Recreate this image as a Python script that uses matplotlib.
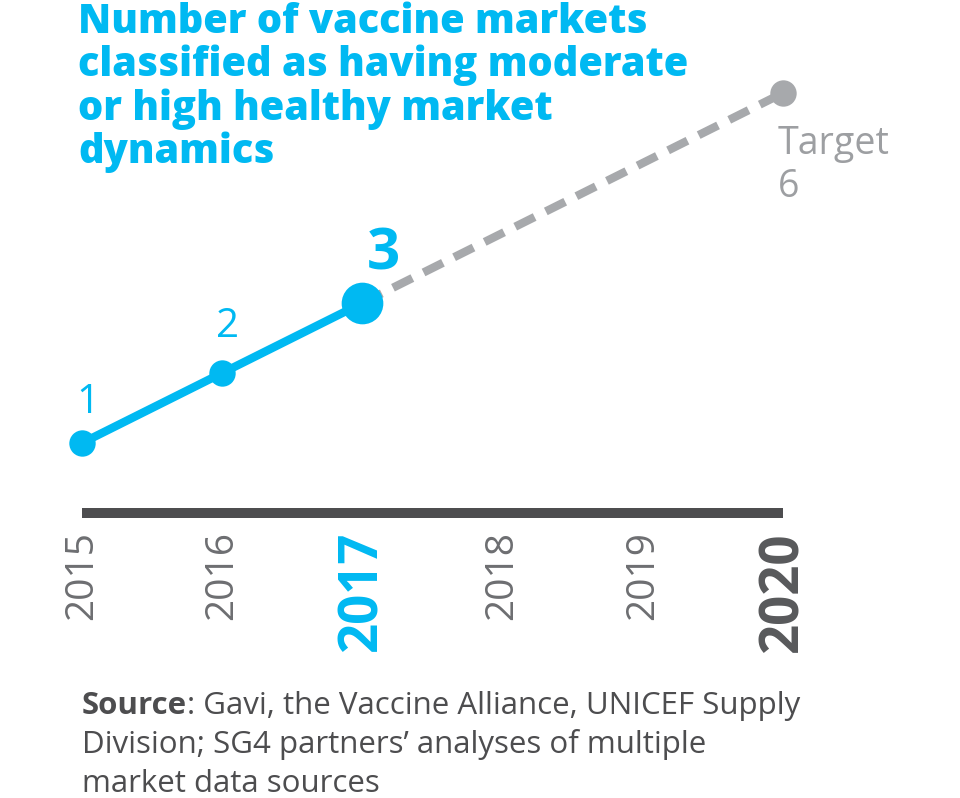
import matplotlib
matplotlib.use("Agg")
import matplotlib.pyplot as plt
from matplotlib import font_manager

# data
actual_years = [2015, 2016, 2017]
actual_values = [1, 2, 3]
target_years = [2017, 2020]
target_values = [3, 6]
tick_years = [2015, 2016, 2017, 2018, 2019, 2020]
tick_labels = ["2015", "2016", "2017", "2018", "2019", "2020"]

title_lines = [
    "Number of vaccine markets",
    "classified as having moderate",
    "or high healthy market",
    "dynamics",
]
source_lines = [
    ": Gavi, the Vaccine Alliance, UNICEF Supply",
    "Division; SG4 partners\u2019 analyses of multiple",
    "market data sources",
]

CYAN = "#00B9F2"
GREY_DASH = "#A7A9AC"
GREY_TEXT = "#6D6E71"
DARK = "#4D4D4F"

names = {f.name for f in font_manager.fontManager.ttflist}
NARROW = "Liberation Sans Narrow" if "Liberation Sans Narrow" in names else "Open Sans"
FONT = "Open Sans"
SRC_SIZE = 25 if NARROW != "Open Sans" else 22.5

W, H = 960, 798
fig = plt.figure(figsize=(W / 100, H / 100), dpi=100)
fig.patch.set_facecolor("white")


def px(x, y):
    return x / W, 1 - y / H


# axes: x 2015..2020 -> px 82..783, y 0..6 -> px 513..93
x0, y0 = px(82, 513)
x1, y1 = px(783, 93)
ax = fig.add_axes([x0, y0, x1 - x0, y1 - y0])
ax.set_xlim(2015, 2020)
ax.set_ylim(0, 6)
ax.patch.set_alpha(0)
for side in ["top", "left", "right"]:
    ax.spines[side].set_visible(False)
ax.spines["bottom"].set_color(DARK)
ax.spines["bottom"].set_linewidth(7.2)
ax.spines["bottom"].set_capstyle("butt")
ax.set_yticks([])

# target (dashed grey) then actual (cyan)
ax.plot(target_years, target_values, color=GREY_DASH, lw=6, dashes=(2.6, 1.5),
        dash_capstyle="butt", clip_on=False, zorder=2)
ax.plot(target_years[-1:], target_values[-1:], "o", color=GREY_DASH, ms=19,
        mec="none", clip_on=False, zorder=3)
ax.plot(actual_years, actual_values, color=CYAN, lw=6, clip_on=False, zorder=4)
ax.plot(actual_years[:2], actual_values[:2], "o", color=CYAN, ms=19, mec="none",
        clip_on=False, zorder=5)
ax.plot(actual_years[-1:], actual_values[-1:], "o", color=CYAN, ms=30, mec="none",
        clip_on=False, zorder=5)

# value labels
ax.annotate("1", (actual_years[0], actual_values[0]), xytext=(4, 29),
            textcoords="offset points", ha="center", va="center",
            color=CYAN, fontsize=29, family=FONT)
ax.annotate("2", (actual_years[1], actual_values[1]), xytext=(4, 33),
            textcoords="offset points", ha="center", va="center",
            color=CYAN, fontsize=29, family=FONT)
ax.annotate("3", (actual_years[2], actual_values[2]), xytext=(15, 35),
            textcoords="offset points", ha="center", va="center",
            color=CYAN, fontsize=42, fontweight="bold", family=FONT)
ax.annotate("Target", (target_years[1], target_values[1]), xytext=(-4, -37),
            textcoords="offset points", ha="left", va="center",
            color="#9D9FA2", fontsize=27, family=FONT)
ax.annotate("6", (target_years[1], target_values[1]), xytext=(-4, -68),
            textcoords="offset points", ha="left", va="center",
            color="#9D9FA2", fontsize=27, family=FONT)

# year ticks
ax.set_xticks(tick_years)
ax.set_xticklabels(tick_labels, rotation=90, family=FONT)
ax.tick_params(axis="x", length=0, pad=13)
for lab in ax.get_xticklabels():
    lab.set_va("top")
    if lab.get_text() == "2017":
        lab.set_color(CYAN)
        lab.set_fontweight("bold")
        lab.set_fontsize(38)
    elif lab.get_text() == "2020":
        lab.set_color("#58595B")
        lab.set_fontweight("bold")
        lab.set_fontsize(38)
    else:
        lab.set_color(GREY_TEXT)
        lab.set_fontsize(28)

# title
for i, line in enumerate(title_lines):
    fig.text(*px(78, 33 + 43.3 * i), line, color=CYAN, fontsize=28.6,
             fontweight="heavy", family=FONT, va="baseline", ha="left")

# source note
renderer = fig.canvas.get_renderer()
bold = fig.text(*px(82, 714), "Source", color=DARK, fontsize=SRC_SIZE,
                fontweight="bold", family=FONT, va="baseline", ha="left")
bb = bold.get_window_extent(renderer)
fig.text(bb.x1 / W, 1 - 714 / H, source_lines[0], color=DARK, fontsize=SRC_SIZE,
         family=NARROW, va="baseline", ha="left")
for i, line in enumerate(source_lines[1:], start=1):
    fig.text(*px(82, 714 + 39 * i), line, color=DARK, fontsize=SRC_SIZE,
             family=NARROW, va="baseline", ha="left")

fig.savefig("out.png", dpi=100, facecolor="white")
